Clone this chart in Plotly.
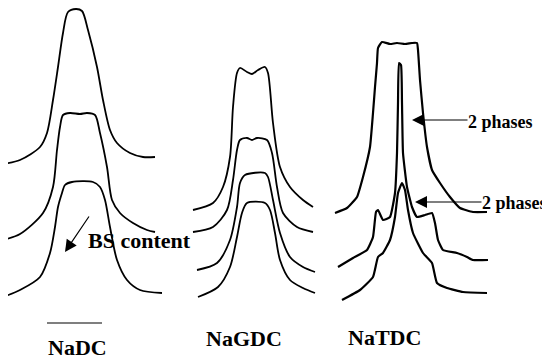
import plotly.graph_objects as go

# traced spectra, image pixel coordinates (y grows downward)
nadc_1_x = [3, 20, 40, 47, 53, 58, 63, 68, 76, 82, 88, 97, 103, 110, 117, 130, 143, 155]
nadc_1_y = [164, 160, 147, 133, 100, 67, 33, 12, 9, 11, 30, 67, 100, 130, 143, 153, 157, 157]
nadc_2_x = [3, 20, 43, 53, 57, 60, 63, 70, 80, 87, 95, 100, 107, 112, 120, 133, 147, 155]
nadc_2_y = [240, 234, 213, 187, 150, 127, 115, 113, 114, 113, 115, 133, 167, 200, 213, 223, 230, 232]
nadc_3_x = [3, 20, 40, 50, 55, 58, 62, 65, 72, 93, 100, 105, 110, 117, 127, 140, 162]
nadc_3_y = [297, 290, 277, 253, 227, 207, 193, 185, 182, 182, 187, 200, 227, 260, 280, 290, 293]

nagdc_1_x = [193, 213, 223, 230, 233, 237, 240, 247, 252, 258, 265, 268, 273, 280, 290, 303, 313]
nagdc_1_y = [210, 203, 187, 157, 107, 73, 68, 72, 74, 70, 67, 73, 123, 167, 187, 200, 207]
nagdc_2_x = [193, 213, 227, 233, 237, 240, 247, 252, 257, 267, 272, 277, 283, 297, 313]
nagdc_2_y = [232, 227, 210, 180, 150, 140, 138, 140, 138, 140, 153, 187, 213, 227, 232]
nagdc_3_x = [197, 217, 230, 237, 240, 245, 265, 268, 273, 280, 290, 303, 315]
nagdc_3_y = [270, 263, 240, 207, 183, 175, 173, 177, 200, 233, 257, 267, 272]
nagdc_4_x = [198, 218, 230, 237, 242, 247, 265, 270, 275, 280, 290, 303, 315]
nagdc_4_y = [297, 287, 267, 237, 213, 203, 203, 210, 233, 260, 280, 288, 293]

natdc_1_x = [335, 347, 357, 363, 370, 373, 375, 377, 378, 382, 390, 397, 405, 412, 417, 418, 420, 423,
             427, 432, 440, 450, 460, 473, 487]
natdc_1_y = [213, 208, 197, 177, 147, 113, 87, 63, 48, 42, 44, 43, 44, 43, 43, 50, 80, 113,
             147, 170, 183, 197, 208, 212, 212]
natdc_2_x = [338, 353, 367, 373, 376, 378, 383, 390, 395, 397, 398, 399, 401, 402, 403, 407, 412, 417,
             425, 432, 435, 438, 443, 457, 467, 473, 488]
natdc_2_y = [267, 258, 250, 237, 212, 210, 220, 217, 193, 153, 103, 63, 65, 103, 153, 187, 207, 217,
             215, 213, 223, 240, 250, 253, 257, 260, 260]
natdc_3_x = [342, 360, 373, 378, 383, 390, 395, 398, 402, 405, 408, 413, 423, 432, 437, 447, 463, 487]
natdc_3_y = [300, 290, 277, 257, 253, 240, 217, 193, 183, 190, 210, 233, 253, 263, 283, 288, 292, 293]

samples = ["NaDC", "NaGDC", "NaTDC"]

fig = go.Figure()
smooth = [(nadc_1_x, nadc_1_y), (nadc_2_x, nadc_2_y), (nadc_3_x, nadc_3_y),
          (nagdc_1_x, nagdc_1_y), (nagdc_2_x, nagdc_2_y), (nagdc_3_x, nagdc_3_y), (nagdc_4_x, nagdc_4_y)]
rough = [(natdc_1_x, natdc_1_y), (natdc_2_x, natdc_2_y), (natdc_3_x, natdc_3_y)]
for xs, ys in smooth:
    fig.add_trace(go.Scatter(x=xs, y=ys, mode="lines", line=dict(color="black", width=1.8, shape="spline", smoothing=0.8),
                             showlegend=False, hoverinfo="skip"))
for xs, ys in rough:
    fig.add_trace(go.Scatter(x=xs, y=ys, mode="lines", line=dict(color="black", width=2.2, shape="spline", smoothing=0.4),
                             showlegend=False, hoverinfo="skip"))

serif = dict(family="Liberation Serif, Times New Roman, serif", color="black")
annotations = [
    dict(x=47, y=334, text="<b>" + samples[0] + "</b>", xanchor="left", yanchor="top", font=dict(size=22, **serif)),
    dict(x=205, y=352, text="<b>" + samples[1] + "</b>", xanchor="left", yanchor="bottom", font=dict(size=22, **serif)),
    dict(x=347, y=351, text="<b>" + samples[2] + "</b>", xanchor="left", yanchor="bottom", font=dict(size=22, **serif)),
    dict(x=87, y=254, text="<b>BS content</b>", xanchor="left", yanchor="bottom", font=dict(size=22, **serif)),
    dict(x=467, y=133, text="<b>2 phases</b>", xanchor="left", yanchor="bottom", font=dict(size=18, **serif)),
    dict(x=481, y=214, text="<b>2 phases</b>", xanchor="left", yanchor="bottom", font=dict(size=18, **serif)),
]
for a in annotations:
    a.update(xref="x", yref="y", showarrow=False, borderpad=0)
arrows = [((90, 215), (65, 252)), ((469, 120), (412, 120)), ((483, 202), (415, 202))]
for (tx, ty), (hx, hy) in arrows:
    annotations.append(dict(x=hx, y=hy, ax=tx, ay=ty, xref="x", yref="y", axref="x", ayref="y", text="",
                            showarrow=True, arrowhead=2, arrowsize=2, arrowwidth=1.2, arrowcolor="black"))

# the page body keeps an 8px margin, so the figure covers 8..550 x 8..360 of the window
fig.update_layout(
    width=542, height=352,
    margin=dict(l=0, r=0, t=0, b=0),
    paper_bgcolor="white", plot_bgcolor="white",
    annotations=annotations,
    shapes=[dict(type="line", xref="x", yref="y", x0=47, x1=102, y0=323, y1=323, line=dict(color="black", width=1.2))],
)
fig.update_xaxes(range=[8, 550], visible=False)
fig.update_yaxes(range=[360, 8], visible=False)
fig.write_html("out.html")
